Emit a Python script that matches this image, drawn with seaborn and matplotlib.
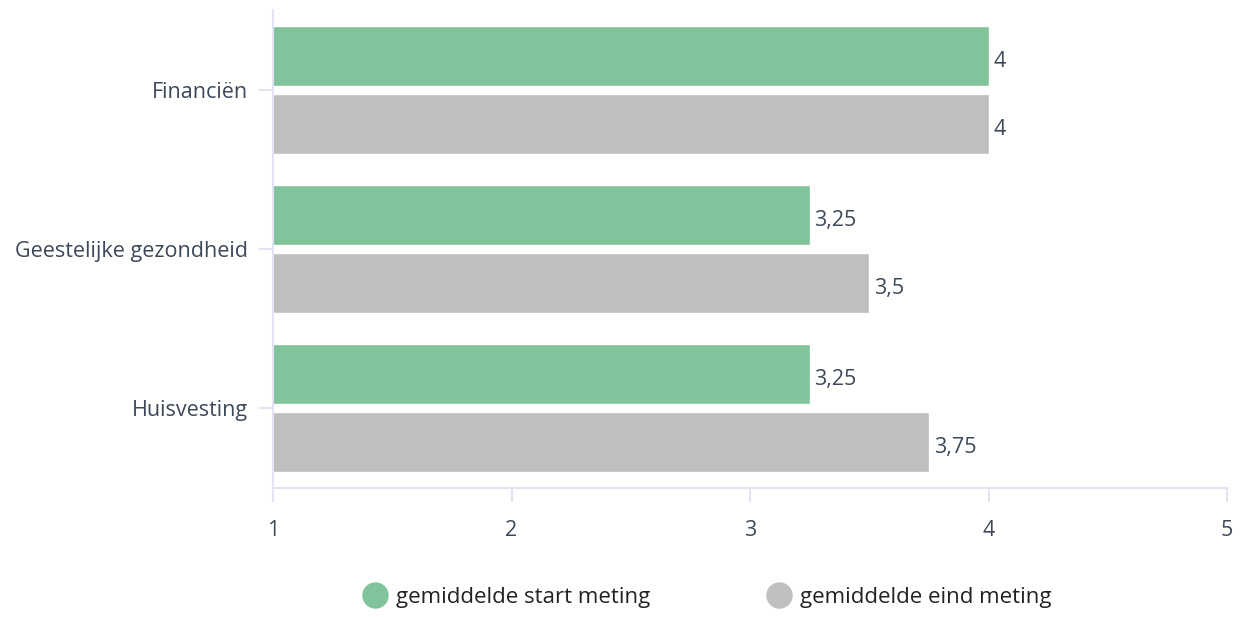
import pandas as pd
import matplotlib
matplotlib.use("Agg")
from matplotlib import pyplot as plt
from matplotlib.lines import Line2D
import seaborn as sns

categories = ["Financiën", "Geestelijke gezondheid", "Huisvesting"]
series = ["gemiddelde start meting", "gemiddelde eind meting"]
start_values = [4, 3.25, 3.25]
end_values = [4, 3.5, 3.75]
colors = ["#81c49b", "#bfbfbf"]

df = pd.DataFrame({
    "categorie": categories * 2,
    "meting": [series[0]] * 3 + [series[1]] * 3,
    "waarde": start_values + end_values,
})

sns.set_style("white")
plt.rcParams["font.family"] = ["Open Sans", "DejaVu Sans"]
text_col = "#3d4858"
axis_col = "#e2e5f1"

fig = plt.figure(figsize=(12.42, 6.17), dpi=100)
ax = fig.add_axes([273 / 1242, 1 - 488 / 617, 954 / 1242, 478 / 617])

sns.barplot(data=df, y="categorie", x="waarde", hue="meting", order=categories,
            hue_order=series, palette=colors, orient="h", width=0.853, gap=0.116,
            ax=ax, legend=False, saturation=1)

ax.set_xlim(1, 5)
ax.set_ylim(2.5, -0.5)
ax.set_xticks([1, 2, 3, 4, 5])
ax.set_xlabel("")
ax.set_ylabel("")

for s in ["top", "right"]:
    ax.spines[s].set_visible(False)
for s in ["left", "bottom"]:
    ax.spines[s].set_color(axis_col)
    ax.spines[s].set_linewidth(1.5)
ax.tick_params(axis="both", bottom=True, left=True, colors=axis_col,
               labelcolor=text_col, labelsize=15.5, length=10, width=1.5)
ax.tick_params(axis="x", pad=13)
ax.tick_params(axis="y", pad=8)

# labels sit a bit below the bar centre in the original
for cont in ax.containers:
    labels = [f"{v:g}".replace(".", ",") for v in cont.datavalues]
    txts = ax.bar_label(cont, labels=labels, padding=3.5, color=text_col, fontsize=15.5)
    for t in txts:
        x0, y0 = t.get_position()
        t.set_position((x0, y0 - 4))

handles = [Line2D([], [], marker="o", linestyle="", markersize=18,
                  markerfacecolor=c, markeredgecolor=c) for c in colors]
fig.legend(handles, series, loc="center", bbox_to_anchor=(708 / 1242, 1 - 597 / 617),
           ncol=2, frameon=False, fontsize=16, handlelength=1, handletextpad=0.45,
           columnspacing=5.3, labelcolor="#222222")

fig.savefig("out.png", dpi=100)
